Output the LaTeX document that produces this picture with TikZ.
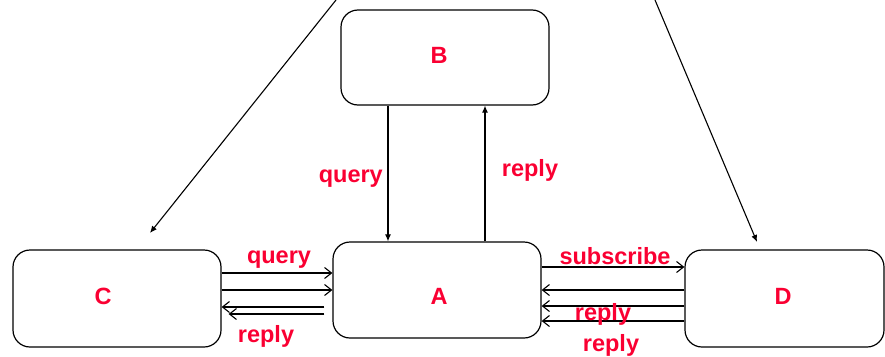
\documentclass[tikz,border=0pt]{standalone}
\usepackage{fontspec}
\setmainfont{Liberation Sans}
\usetikzlibrary{arrows.meta}

\definecolor{msgred}{RGB}{250,0,50}

\tikzset{
  box/.style={draw, line width=1.2pt, rounded corners=17pt, inner sep=0pt},
  lab/.style={text=msgred, font=\fontsize{23.5}{28}\selectfont\bfseries, inner sep=0pt},
  msg/.style={line width=1.1pt, -{Straight Barb[length=7pt,width=11pt,line width=1.1pt]}},
  call/.style={line width=1.1pt, -{Latex[length=7pt,width=6pt]}}
}

\begin{document}
\begin{tikzpicture}[x=1pt,y=-1pt]
      \useasboundingbox (0,0) rectangle (885,356);

      % boxes
      \node[box, minimum width=208pt, minimum height=95pt] (B) at (445,57.5) {};
      \node[box, minimum width=208pt, minimum height=96pt] (A) at (437,290) {};
      \node[box, minimum width=208pt, minimum height=97pt] (C) at (117,298.5) {};
      \node[box, minimum width=199pt, minimum height=97pt] (D) at (784.5,298.5) {};
      \node[lab] (Bt) at (439,55) {B};
      \node[lab] (At) at (439,296) {A};
      \node[lab] (Ct) at (103,296) {C};
      \node[lab] (Dt) at (783,296) {D};

      % B and A
      \path (388,0) coordinate (bq); \path (485,0) coordinate (br);
      \draw[call] (B.south -| bq) to (A.north -| bq);
      \draw[call] (A.north -| br) to (B.south -| br);
      \node[lab, anchor=east] (Bq) at (383,179) {query};
      \node[lab] (Br) at (530,170) {reply};

      % C and A
      \foreach \j in {273,290} {
        \path (0,\j) coordinate (cq\j);
        \draw[msg] (C.east |- cq\j) to (A.west |- cq\j);
      }
      \path (0,307) coordinate (cr1); \path (0,314) coordinate (cr2);
      \draw[msg] ([xshift=-8pt]A.west |- cr1) to (C.east |- cr1);
      \draw[msg] ([xshift=-8pt]A.west |- cr2) to ([xshift=7pt]C.east |- cr2);
      \node[lab] (Cq) at (279,260) {query};
      \node[lab] (Cr) at (266,336) {reply};

      % A and D
      \path (0,267) coordinate (ds);
      \draw[msg] (A.east |- ds) to (D.west |- ds);
      \foreach \j in {290,306,321} {
        \path (0,\j) coordinate (dr\j);
        \draw[msg] (D.west |- dr\j) to (A.east |- dr\j);
      }
      \node[lab] (Ds) at (615,256) {subscribe};
      \node[lab] (Dr1) at (603,314) {reply};
      \node[lab] (Dr2) at (611,345) {reply};

      % from above
      \path (336,0) coordinate (tl); \path (150,233) coordinate (tlend);
      \path (655,0) coordinate (tr); \path (757,242) coordinate (trend);
      \draw[call] (tl) to (tlend);
      \draw[call] (tr) to (trend);

    \end{tikzpicture}
\end{document}
